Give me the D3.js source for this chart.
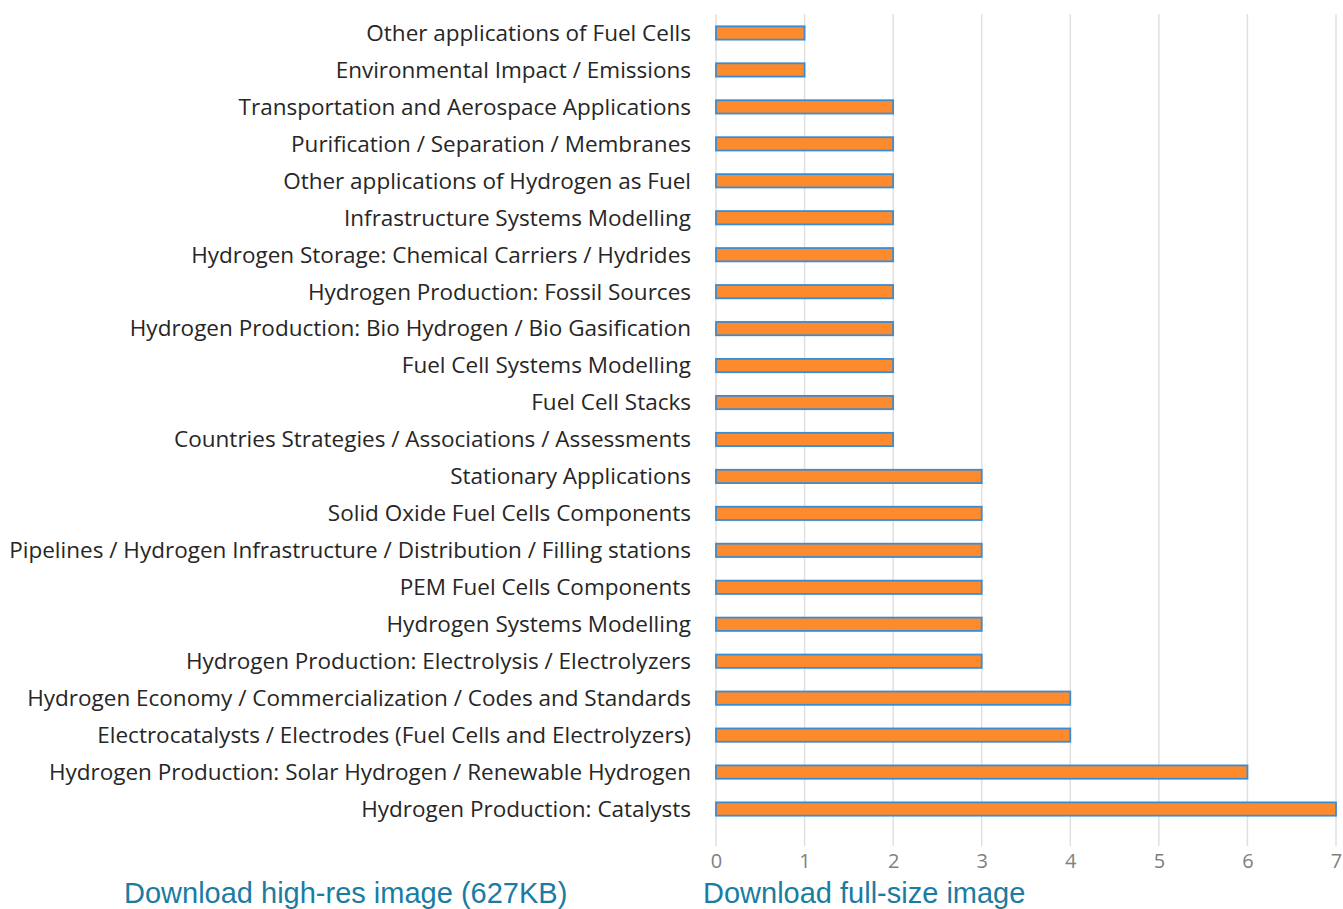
<!DOCTYPE html>
<html>
<head>
<meta charset="utf-8">
<script src="https://cdn.jsdelivr.net/npm/d3@7"></script>
<style>
body { margin:0; background:#fff; }
.lbl { font-family: "Open Sans", sans-serif; font-size:22.5px; fill:#262626; }
.tick text { font-family: "Open Sans", sans-serif; font-size:20px; fill:#808080; }
.link { font-family: "Liberation Sans", Arial, sans-serif; font-size:29px; fill:#1a7ca3; }
</style>
</head>
<body>
<script>
var categories = [
  "Other applications of Fuel Cells",
  "Environmental Impact / Emissions",
  "Transportation and Aerospace Applications",
  "Purification / Separation / Membranes",
  "Other applications of Hydrogen as Fuel",
  "Infrastructure Systems Modelling",
  "Hydrogen Storage: Chemical Carriers / Hydrides",
  "Hydrogen Production: Fossil Sources",
  "Hydrogen Production: Bio Hydrogen / Bio Gasification",
  "Fuel Cell Systems Modelling",
  "Fuel Cell Stacks",
  "Countries Strategies / Associations / Assessments",
  "Stationary Applications",
  "Solid Oxide Fuel Cells Components",
  "Pipelines / Hydrogen Infrastructure / Distribution / Filling stations",
  "PEM Fuel Cells Components",
  "Hydrogen Systems Modelling",
  "Hydrogen Production: Electrolysis / Electrolyzers",
  "Hydrogen Economy / Commercialization / Codes and Standards",
  "Electrocatalysts / Electrodes (Fuel Cells and Electrolyzers)",
  "Hydrogen Production: Solar Hydrogen / Renewable Hydrogen",
  "Hydrogen Production: Catalysts"
];
var counts = [1,1,2,2,2,2,2,2,2,2,2,2,3,3,3,3,3,3,4,4,6,7];
var xTicks = [0,1,2,3,4,5,6,7];
var links = ["Download high-res image (627KB)", "Download full-size image"];

var svg = d3.select("body").append("svg")
  .attr("width", 1343).attr("height", 909);

var x = d3.scaleLinear().domain([0,7]).range([716,1336]);
var y = d3.scaleBand().domain(categories).range([14.5,827.5]).paddingInner(0.64).paddingOuter(0.32);

// gridlines
svg.append("g").selectAll("line").data(xTicks).enter().append("line")
  .attr("x1", function(d){ return x(d); })
  .attr("x2", function(d){ return x(d); })
  .attr("y1", 14).attr("y2", 846)
  .attr("stroke", "#e0e0e0").attr("stroke-width", 1.5);

// bars
svg.append("g").selectAll("rect").data(categories).enter().append("rect")
  .attr("x", x(0))
  .attr("y", function(d){ return y(d); })
  .attr("width", function(d,i){ return x(counts[i]) - x(0); })
  .attr("height", y.bandwidth())
  .attr("fill", "#fd8a2c")
  .attr("stroke", "#3a8cd4").attr("stroke-width", 1.8);

// category labels
svg.append("g").selectAll("text").data(categories).enter().append("text")
  .attr("class", "lbl")
  .attr("x", 691)
  .attr("y", function(d){ return y(d) + y.bandwidth()/2; })
  .attr("dy", "0.35em")
  .attr("text-anchor", "end")
  .text(function(d){ return d; });

// x axis labels
var xAxis = d3.axisBottom(x).tickValues(xTicks).tickFormat(d3.format("d")).tickSize(0).tickPadding(0);
var gx = svg.append("g").attr("transform", "translate(0,850)").call(xAxis);
gx.select(".domain").remove();
gx.selectAll("text").attr("dy", "0.9em");

svg.append("text").attr("class","link").attr("x",124).attr("y",903).text(links[0]);
svg.append("text").attr("class","link").attr("x",703).attr("y",903).text(links[1]);
</script>
</body>
</html>
